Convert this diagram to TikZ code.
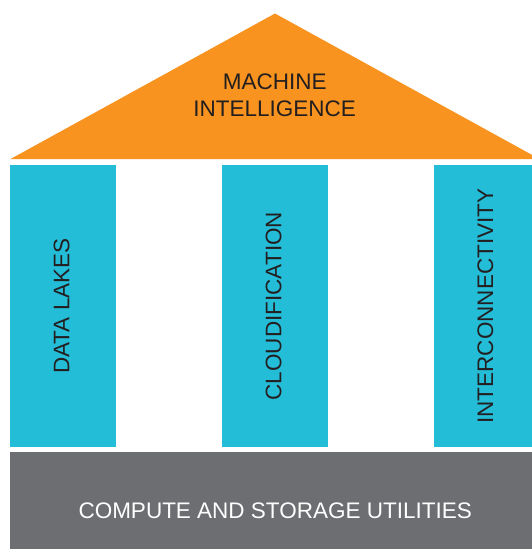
\documentclass[tikz,border=0pt]{standalone}
\usepackage{fontspec}
\setmainfont{Liberation Sans}
\definecolor{roofc}{HTML}{F7931E}
\definecolor{pillarc}{HTML}{23BDD8}
\definecolor{slabc}{HTML}{6D6E72}
\definecolor{inkc}{HTML}{231F20}

\begin{document}
\begin{tikzpicture}[x=1pt,y=-1pt,font=\fontsize{22.5}{27}\selectfont,
  pillar/.style={fill=pillarc,text=inkc,rotate=90,inner sep=0pt,text height=16.1pt,text depth=4pt,minimum width=281.6pt,minimum height=106pt},
  slab/.style={fill=slabc,text=white,inner sep=0pt,minimum width=530pt,minimum height=115.8pt}]
\useasboundingbox (0,0) rectangle (531,549);
\fill[roofc] (10.2,159.2) -- (275,13.5) -- (539.8,159.2) -- cycle;
\node[text=inkc,align=center,inner sep=0pt] (roof) at (274.7,95.4) {MACHINE\\INTELLIGENCE};
\node[pillar] (lakes) at (63.2,306.1) {DATA LAKES};
\node[pillar] (cloud) at (275.2,306.1) {CLOUDIFICATION};
\node[pillar] (inter) at (487.1,306.1) {INTERCONNECTIVITY};
\node[slab] (utils) at (275.2,510.3) {COMPUTE AND STORAGE UTILITIES};
\end{tikzpicture}
\end{document}
